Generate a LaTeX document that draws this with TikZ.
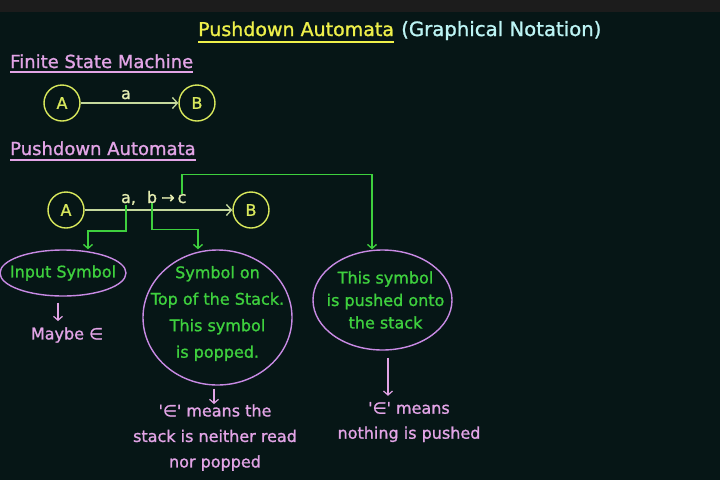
\documentclass[tikz,border=0pt]{standalone}
\usepackage{fontspec}
\setmainfont{DejaVu Sans}[RawFeature={embolden=1.2}]
\usetikzlibrary{arrows.meta}
\usetikzlibrary{shapes.geometric}
\definecolor{board}{HTML}{061616}
\definecolor{topbar}{HTML}{1c1c1c}
\definecolor{chalkyel}{HTML}{eef04a}
\definecolor{ringyel}{HTML}{d8e85c}
\definecolor{paleyel}{HTML}{e4ecb0}
\definecolor{edgegrn}{HTML}{c4d89c}
\definecolor{chalkgrn}{HTML}{3ed03e}
\definecolor{chalkpink}{HTML}{e2a4e6}
\definecolor{ringviol}{HTML}{c88ae4}
\definecolor{chalkcyan}{HTML}{bcf4f4}

\begin{document}
\begin{tikzpicture}[x=1pt,y=-1pt,
    state/.style={draw=ringyel,circle,line width=1.4pt,minimum size=36pt,inner sep=0pt,text=ringyel,font=\fontsize{16}{19}\selectfont},
    bubble/.style={draw=ringviol,ellipse,line width=1.4pt,inner sep=0pt},
    greentext/.style={text=chalkgrn,align=center,inner sep=0pt},
    pinktext/.style={text=chalkpink,align=center,inner sep=0pt},
    edge/.style={draw=edgegrn,line width=1.3pt,-{Straight Barb[length=5pt,width=11pt]}},
    pointer/.style={draw=chalkgrn,line width=1.3pt,-{Straight Barb[length=4pt,width=9pt]}},
    note/.style={draw=chalkpink,line width=1.2pt,-{Straight Barb[length=4pt,width=9pt]}}]
\useasboundingbox (0,0) rectangle (720,480);
\fill[board] (0,0) rectangle (720,480);
\fill[topbar] (0,0) rectangle (720,12);

% headings
\node[anchor=base west,inner sep=0pt,text=chalkyel,font=\fontsize{19}{22}\selectfont] (title) at (198,36) {Pushdown Automata};
\node[anchor=base west,inner sep=0pt,text=chalkcyan,font=\fontsize{19.7}{22}\selectfont] (sub) at (401,36) {(Graphical Notation)};
\draw[chalkyel,line width=1.4pt] ([yshift=-6pt]title.base west) -- ([yshift=-6pt]title.base east);
\node[anchor=base west,inner sep=0pt,text=chalkpink,font=\fontsize{18}{21}\selectfont] (fsm) at (10,68) {Finite State Machine};
\draw[chalkpink,line width=1.4pt] ([yshift=-4pt]fsm.base west) -- ([yshift=-4pt]fsm.base east);
\node[anchor=base west,inner sep=0pt,text=chalkpink,font=\fontsize{18}{21}\selectfont] (pda) at (10,155) {Pushdown Automata};
\draw[chalkpink,line width=1.4pt] ([yshift=-5pt]pda.base west) -- ([yshift=-5pt]pda.base east);

% finite state machine
\node[state] (fa) at (62,103) {A};
\node[state] (fb) at (197,103) {B};
\draw[edge] (fa) -- (fb);
\node[anchor=base,inner sep=0pt,text=paleyel,font=\fontsize{16}{19}\selectfont] (fl) at (126,99) {a};

% pushdown automaton
\node[state] (pa) at (66,210) {A};
\node[state] (pb) at (251,210) {B};
\draw[edge] (pa) -- (pb);
\begin{scope}[every node/.style={anchor=base,inner sep=0pt,text=paleyel,font=\fontsize{16}{19}\selectfont}]
\node (sa) at (126,203) {a\rlap{,}};
\node (sb) at (152,203) {b};
\node (sarr) at (168,203) {→};
\node (sc) at (182,203) {c};
\end{scope}

\node[bubble,minimum width=126pt,minimum height=46pt] (inp) at (63,273) {};
\node[greentext,font=\fontsize{16}{19}\selectfont] at (inp) {Input Symbol};
\node[bubble,minimum width=149pt,minimum height=135pt] (pop) at (217.5,317.5) {};
\node[greentext,font=\fontsize{16}{26.5}\selectfont] at ([yshift=4pt]pop) {Symbol on\\Top of the Stack.\\This symbol\\is popped.};
\node[bubble,minimum width=139pt,minimum height=100pt] (push) at (382.5,300) {};
\node[greentext,font=\fontsize{16}{22.5}\selectfont] at ([xshift=3pt]push) {This symbol\\is pushed onto\\the stack};

\draw[pointer] (sa.south) -- ++(0,26) -| ([xshift=25pt]inp.north);
\draw[pointer] (sb.south) -- ++(0,26) -| ([xshift=-19.5pt]pop.north);
\draw[pointer] (sc.north) -- ++(0,-19) -| ([xshift=-10.5pt]push.north);

% remarks
\node[pinktext,font=\fontsize{16}{19}\selectfont] (maybe) at (67,335) {Maybe ∈};
\node[pinktext,font=\fontsize{16}{25.5}\selectfont] (nread) at (215,437.5) {\textquotesingle∈\textquotesingle\ means the\\stack is neither read\\nor popped};
\node[pinktext,font=\fontsize{16}{25}\selectfont] (npush) at (409,422) {\textquotesingle∈\textquotesingle\ means\\nothing is pushed};
\draw[note] ([xshift=-5pt,yshift=-6pt]inp.south) -- ([xshift=-9pt,yshift=6pt]maybe.north);
\draw[note] ([xshift=-3.5pt,yshift=-3pt]pop.south) -- ([xshift=-1pt]nread.north);
\draw[note] ([xshift=5.5pt,yshift=-7pt]push.south) -- ([xshift=-21pt,yshift=6pt]npush.north);
\end{tikzpicture}
\end{document}
